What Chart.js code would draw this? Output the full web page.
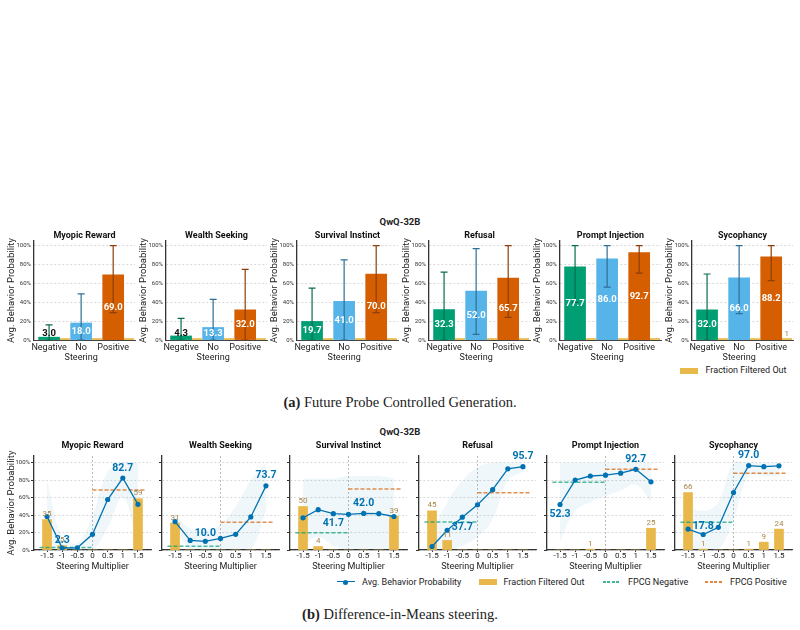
<!DOCTYPE html>
<html>
<head>
<meta charset="utf-8">
<script src="https://cdn.jsdelivr.net/npm/chart.js@4.4.0/dist/chart.umd.min.js"></script>
<style>
body { margin: 0; background: #fff; font-family: Roboto, sans-serif; color: #222; }
#page { position: relative; width: 800px; height: 630px; overflow: hidden; }
canvas { position: absolute; }
.txt { position: absolute; white-space: nowrap; font-size: 9px; line-height: 9px; }
.head { position: absolute; left: 0; width: 800px; text-align: center; font-weight: bold; font-size: 9.5px; line-height: 10px; }
.cap { position: absolute; left: 0; width: 800px; text-align: center; font-family: 'Liberation Serif', 'Times New Roman', serif; font-size: 14.5px; line-height: 16px; }
.box { position: absolute; background: #E8B84B; }
.dash { position: absolute; height: 1.5px; }
</style>
</head>
<body>
<div id="page">
  <div class="head" style="top:217px">QwQ-32B</div>
  <div class="box" style="left:680px;top:367.5px;width:18px;height:6.5px"></div>
  <div class="txt" style="left:705.5px;top:366px">Fraction Filtered Out</div>
  <div class="cap" style="top:394px"><b>(a)</b> Future Probe Controlled Generation.</div>

  <div class="head" style="top:427px">QwQ-32B</div>
  <div style="position:absolute;left:336.5px;top:581.4px;width:18.5px;border-top:1.3px solid #0072B2"></div>
  <div style="position:absolute;left:343.3px;top:579.5px;width:5px;height:5px;border-radius:50%;background:#0072B2"></div>
  <div class="txt" style="left:362px;top:577.5px">Avg. Behavior Probability</div>
  <div class="box" style="left:479px;top:578.8px;width:18px;height:6.5px"></div>
  <div class="txt" style="left:503.5px;top:577.5px">Fraction Filtered Out</div>
  <div class="dash" style="left:602.5px;top:581.3px;width:18px;background:repeating-linear-gradient(90deg,rgba(0,158,115,0.75) 0 3px,transparent 3px 4.5px)"></div>
  <div class="txt" style="left:628px;top:577.5px">FPCG Negative</div>
  <div class="dash" style="left:705px;top:581.3px;width:18px;background:repeating-linear-gradient(90deg,rgba(213,94,0,0.75) 0 3px,transparent 3px 4.5px)"></div>
  <div class="txt" style="left:730px;top:577.5px">FPCG Positive</div>
  <div class="cap" style="top:606px"><b>(b)</b> Difference-in-Means steering.</div>
</div>
<script>
// ---- data ----
const behaviors = ['Myopic Reward', 'Wealth Seeking', 'Survival Instinct', 'Refusal', 'Prompt Injection', 'Sycophancy'];
const steeringLabels = ['Negative', ['No', 'Steering'], 'Positive'];

// (a) future probe controlled generation: Negative / No steering / Positive
const fpcgMean = [
  [3.0, 18.0, 69.0],
  [4.3, 13.3, 32.0],
  [19.7, 41.0, 70.0],
  [32.3, 52.0, 65.7],
  [77.7, 86.0, 92.7],
  [32.0, 66.0, 88.2]
];
const fpcgLow = [
  [0, 0, 29],
  [0, 0, 0],
  [0, 0, 29],
  [0, 6, 24],
  [40, 56, 71],
  [0, 28, 63]
];
const fpcgHigh = [
  [16, 49, 100],
  [23, 43, 75],
  [55, 85, 100],
  [72, 97, 100],
  [100, 100, 100],
  [70, 100, 100]
];
const fpcgFiltered = [
  [0, 0, 0],
  [0, 0, 0],
  [0, 0, 0],
  [0, 0, 0],
  [0, 0, 0],
  [0, 0, 1]
];

// (b) difference-in-means steering
const multipliers = [-1.5, -1, -0.5, 0, 0.5, 1, 1.5];
const dimBehavior = [
  [38.5, 2.3, 2.5, 18.0, 58.0, 82.7, 52.5],
  [32.7, 11.0, 10.0, 13.3, 18.0, 38.0, 73.7],
  [37.0, 46.3, 41.7, 41.0, 42.0, 41.7, 38.5],
  [4.0, 22.7, 37.7, 52.0, 69.3, 93.3, 95.7],
  [52.3, 80.3, 85.0, 86.0, 88.3, 92.7, 78.3],
  [24.0, 17.8, 26.0, 66.0, 97.0, 95.7, 96.7]
];
const dimHigh = [
  [80, 15, 8, 40, 90, 100, 100],
  [40, 25, 22, 30, 50, 80, 100],
  [82, 82, 82, 85, 85, 85, 82],
  [20, 55, 80, 95, 100, 100, 100],
  [100, 100, 100, 100, 100, 100, 100],
  [50, 45, 55, 100, 100, 100, 100]
];
const dimLow = [
  [0, 0, 0, 0, 25, 60, 5],
  [25, 0, 0, 0, 0, 0, 45],
  [5, 15, 5, 0, 0, 0, 0],
  [0, 0, 5, 15, 35, 80, 90],
  [10, 45, 55, 62, 68, 75, 55],
  [0, 0, 0, 35, 85, 85, 85]
];
const dimFiltered = [
  [35, 5, 0, 0, 0, 0, 59],
  [31, 0, 0, 0, 0, 0, 0],
  [50, 4, 0, 0, 0, 0, 39],
  [45, 11, 0, 0, 0, 0, 0],
  [0, 0, 1, 0, 0, 0, 25],
  [66, 1, 0, 0, 1, 9, 24]
];

// ---- styles ----
const steeringColors = ['#009E73', '#56B4E9', '#D55E00'];
const errColors = ['#0b6b50', '#2f6e95', '#8c3f0a'];
const FILTER_COLOR = '#E8B84B';
const FILTER_TEXT = '#a4864a';
const LINE_BLUE = '#0072B2';
const FILTER_SHIFT = 0.484;   // yellow bar sits right of the behaviour bar
const FPCG_SPAN = 1.75;
const MAX_FILTERED = 10;      // extremes ignore points with more filtered out

Chart.defaults.font.family = 'Roboto';
Chart.defaults.color = '#222';

const page = document.getElementById('page');
function makeCanvas(left, top, w, h) {
  const c = document.createElement('canvas');
  c.width = w; c.height = h;
  c.style.left = left + 'px'; c.style.top = top + 'px';
  c.style.width = w + 'px'; c.style.height = h + 'px';
  page.appendChild(c);
  return c;
}

// subplot title
const titlePlugin = {
  id: 'subTitle',
  afterDraw(chart, args, opts) {
    const { ctx, chartArea } = chart;
    ctx.save();
    ctx.font = 'bold 9px Roboto';
    ctx.fillStyle = '#111';
    ctx.textAlign = 'center';
    ctx.textBaseline = 'middle';
    ctx.fillText(opts.text, (chartArea.left + chartArea.right) / 2, opts.y);
    ctx.restore();
  }
};

// error bars + value labels for row (a)
const topLabels = {
  id: 'topLabels',
  afterDatasetsDraw(chart, args, opts) {
    const i = opts.idx;
    const { ctx, scales: { x, y } } = chart;
    ctx.save();
    fpcgMean[i].forEach((v, k) => {
      const px = x.getPixelForValue(k);
      const y0 = y.getPixelForValue(fpcgLow[i][k]);
      const y1 = y.getPixelForValue(fpcgHigh[i][k]);
      ctx.strokeStyle = errColors[k];
      ctx.lineWidth = 1.2;
      ctx.beginPath();
      ctx.moveTo(px, y0); ctx.lineTo(px, y1);
      ctx.moveTo(px - 3.5, y1); ctx.lineTo(px + 3.5, y1);
      ctx.moveTo(px - 3.5, y0); ctx.lineTo(px + 3.5, y0);
      ctx.stroke();
    });
    ctx.font = 'bold 9.5px Roboto';
    ctx.textAlign = 'center';
    ctx.textBaseline = 'middle';
    fpcgMean[i].forEach((v, k) => {
      const small = v < 8;
      ctx.fillStyle = small ? '#111' : '#fff';
      ctx.fillText(v.toFixed(1), x.getPixelForValue(k), y.getPixelForValue(Math.max(v / 2, 6.5)));
    });
    ctx.font = '8px Roboto';
    ctx.fillStyle = FILTER_TEXT;
    fpcgFiltered[i].forEach((f, k) => {
      if (f > 0) ctx.fillText(String(f), x.getPixelForValue(k + FILTER_SHIFT), y.getPixelForValue(f) - 5.5);
    });
    ctx.restore();
  }
};

// filtered labels + extreme annotations for row (b)
const dimLabels = {
  id: 'dimLabels',
  afterDatasetsDraw(chart, args, opts) {
    const i = opts.idx;
    const { ctx, scales: { x, y } } = chart;
    const vals = dimBehavior[i], filt = dimFiltered[i];
    ctx.save();
    ctx.textAlign = 'center';
    ctx.textBaseline = 'middle';
    ctx.font = '8px Roboto';
    ctx.fillStyle = FILTER_TEXT;
    filt.forEach((f, k) => {
      if (f > 0) ctx.fillText(String(f), x.getPixelForValue(multipliers[k]), y.getPixelForValue(f) - 5.5);
    });
    let lo = -1, hi = -1;
    multipliers.forEach((m, k) => {
      if (filt[k] > MAX_FILTERED) return;
      if (m < 0 && (lo < 0 || vals[k] < vals[lo])) lo = k;
      if (m > 0 && (hi < 0 || vals[k] > vals[hi])) hi = k;
    });
    ctx.font = 'bold 10.5px Roboto';
    ctx.fillStyle = LINE_BLUE;
    if (lo >= 0) {
      const off = vals[lo] < 20 ? -8 : 10;
      ctx.fillText(vals[lo].toFixed(1), x.getPixelForValue(multipliers[lo]), y.getPixelForValue(vals[lo]) + off);
    }
    if (hi >= 0) {
      ctx.fillText(vals[hi].toFixed(1), x.getPixelForValue(multipliers[hi]), y.getPixelForValue(vals[hi]) - 10);
    }
    ctx.restore();
  }
};

const pctTicks = s => { s.ticks = [0, 20, 40, 60, 80, 100].map(v => ({ value: v })); };
const yTitle = { display: true, text: 'Avg. Behavior Probability', font: { size: 9.5 }, color: '#222', padding: { top: 6.3, bottom: 0 } };

// ---- row (a) ----
const topLeft = [34, 166, 297, 429, 560, 692];
behaviors.forEach((name, i) => {
  const W = 34 + 101 + 4, H = 137;
  const canvas = makeCanvas(topLeft[i] - 34, 228, W, H);
  new Chart(canvas, {
    type: 'bar',
    data: {
      datasets: [
        {
          data: fpcgMean[i].map((v, k) => ({ x: k, y: v })),
          backgroundColor: steeringColors,
          grouped: false, barThickness: 21
        },
        {
          data: fpcgFiltered[i].map((v, k) => ({ x: k + FILTER_SHIFT, y: v })),
          backgroundColor: FILTER_COLOR,
          grouped: false, barThickness: 10, minBarLength: 1.5
        }
      ]
    },
    options: {
      responsive: false, animation: false, devicePixelRatio: 1,
      layout: { padding: { top: 13, right: 4, left: 0, bottom: 0 } },
      plugins: {
        legend: { display: false }, tooltip: { enabled: false },
        subTitle: { text: name, y: 8 },
        topLabels: { idx: i }
      },
      scales: {
        x: {
          type: 'linear', min: -0.47, max: 2.68, offset: false,
          afterBuildTicks: s => { s.ticks = [0, 1, 2].map(v => ({ value: v })); },
          afterFit: s => { s.height = 25; },
          ticks: { callback: v => steeringLabels[v], font: { size: 9, lineHeight: 1.1 }, color: '#222', padding: 2.4, maxRotation: 0, autoSkip: false },
          grid: { display: false, drawTicks: false, offset: false },
          border: { color: '#444', width: 1 }
        },
        y: {
          min: 0, max: 105,
          afterBuildTicks: pctTicks,
          afterFit: s => { s.width = 34; },
          ticks: { callback: v => v + '%', font: { size: 6 }, color: '#333', padding: 3 },
          grid: { color: '#cfcfcf', lineWidth: 0.8, drawTicks: false },
          border: { color: '#333', width: 1.3, dash: [2, 2] },
          title: yTitle
        }
      }
    },
    plugins: [titlePlugin, topLabels]
  });
});

// ---- row (b) ----
const botLeft = [34, 162, 290, 419, 547, 675];
behaviors.forEach((name, i) => {
  const W = 34 + 117 + 4, H = 136;
  const canvas = makeCanvas(botLeft[i] - 34, 436, W, H);
  const pts = arr => arr.map((v, k) => ({ x: multipliers[k], y: v }));
  new Chart(canvas, {
    type: 'bar',
    data: {
      datasets: [
        {
          type: 'line', data: pts(dimBehavior[i]),
          borderColor: LINE_BLUE, backgroundColor: LINE_BLUE, borderWidth: 1.3,
          pointRadius: 2.6, pointBorderWidth: 0, pointBackgroundColor: LINE_BLUE, tension: 0
        },
        {
          type: 'line', data: [{ x: -FPCG_SPAN, y: fpcgMean[i][0] }, { x: 0, y: fpcgMean[i][0] }],
          borderColor: 'rgba(0,158,115,0.7)', borderWidth: 1.5, borderDash: [4, 2], pointRadius: 0
        },
        {
          type: 'line', data: [{ x: 0, y: fpcgMean[i][2] }, { x: FPCG_SPAN, y: fpcgMean[i][2] }],
          borderColor: 'rgba(213,94,0,0.7)', borderWidth: 1.5, borderDash: [4, 2], pointRadius: 0
        },
        {
          data: pts(dimFiltered[i]),
          backgroundColor: FILTER_COLOR, grouped: false, barThickness: 9
        },
        {
          type: 'line', data: pts(dimHigh[i]),
          borderWidth: 0, pointRadius: 0, tension: 0.4,
          fill: '+1', backgroundColor: 'rgba(0,114,178,0.06)'
        },
        {
          type: 'line', data: pts(dimLow[i]),
          borderWidth: 0, pointRadius: 0, tension: 0.4, fill: false
        }
      ]
    },
    options: {
      responsive: false, animation: false, devicePixelRatio: 1,
      layout: { padding: { top: 20, right: 4, left: 0, bottom: 0 } },
      plugins: {
        legend: { display: false }, tooltip: { enabled: false },
        subTitle: { text: name, y: 9.7 },
        dimLabels: { idx: i }
      },
      scales: {
        x: {
          type: 'linear', min: -1.93, max: 1.93, offset: false,
          afterBuildTicks: s => { s.ticks = multipliers.map(v => ({ value: v })); },
          afterFit: s => { s.height = 22; },
          ticks: { callback: v => String(v), font: { size: 8, lineHeight: 1 }, color: '#222', padding: 0, maxRotation: 0, autoSkip: false },
          grid: {
            offset: false,
            color: c => (c.tick && c.tick.value === 0 ? '#aaaaaa' : 'rgba(0,0,0,0)'),
            lineWidth: 0.8, drawTicks: true, tickLength: 2, tickColor: '#333', tickWidth: 1
          },
          border: { color: '#333', width: 1.2, dash: [2, 2] },
          title: { display: true, text: 'Steering Multiplier', font: { size: 9 }, color: '#222', padding: 0 }
        },
        y: {
          min: 0, max: 108,
          afterBuildTicks: pctTicks,
          afterFit: s => { s.width = 34; },
          ticks: { display: i === 0, callback: v => v + '%', font: { size: 6 }, color: '#333', padding: 1 },
          grid: { color: '#cfcfcf', lineWidth: 0.8, drawTicks: true, tickLength: 3, tickColor: '#333', tickWidth: 1 },
          border: { color: '#333', width: 1.3, dash: [2, 2] },
          title: Object.assign({}, yTitle, { display: i === 0 })
        }
      }
    },
    plugins: [titlePlugin, dimLabels]
  });
});
</script>
</body>
</html>
